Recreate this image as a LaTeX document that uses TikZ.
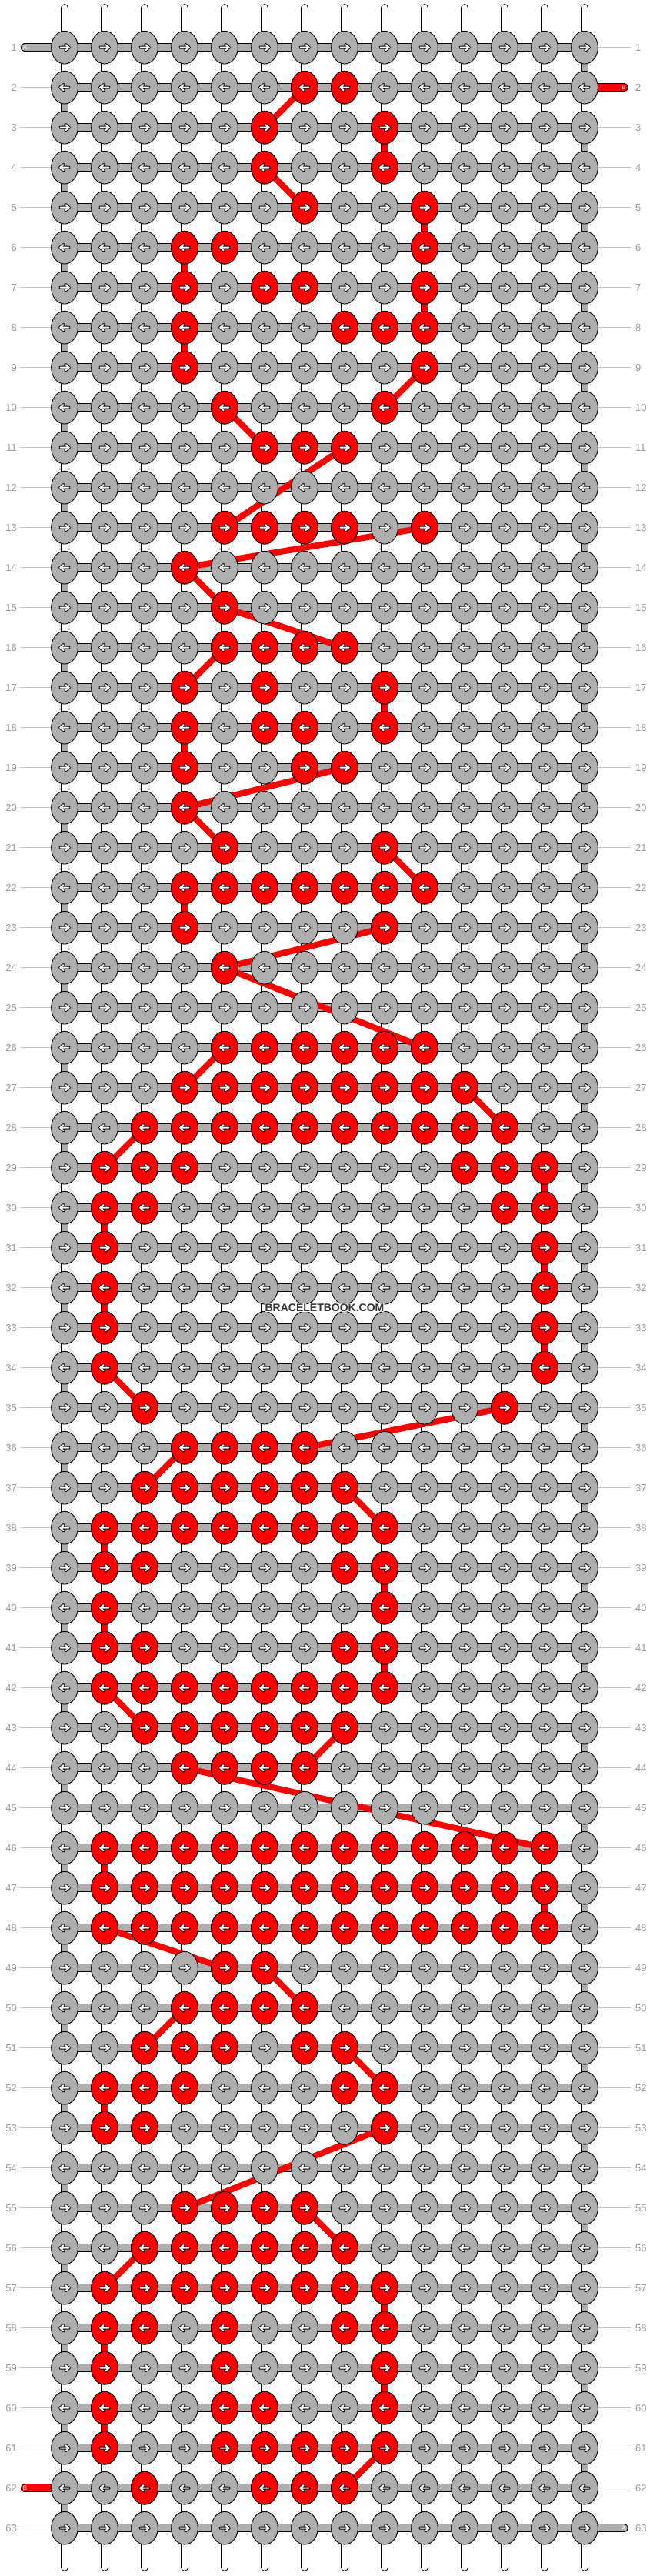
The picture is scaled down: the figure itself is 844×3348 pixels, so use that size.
\documentclass[tikz,border=0pt]{standalone}
\usepackage{fontspec}
\setmainfont{Liberation Sans}
\usetikzlibrary{shapes.geometric}
\definecolor{knotgrey}{HTML}{AEAEAE}
\definecolor{labgrey}{HTML}{9A9A9A}
\definecolor{lingrey}{HTML}{C4C4C4}
\definecolor{tubeline}{HTML}{D2D2D2}
\definecolor{wred}{HTML}{FF0000}
\definecolor{wmark}{HTML}{333333}
\tikzset{
  rarr/.pic={
    \draw[black,line width=4pt,line cap=round,line join=round] (-5.5,0)--(5.8,0) (1.3,-3.6)--(5.8,0)--(1.3,3.6);
    \draw[white,line width=2pt,line cap=round,line join=round] (-5.5,0)--(5.8,0) (1.3,-3.6)--(5.8,0)--(1.3,3.6);
  },
  larr/.pic={
    \draw[black,line width=4pt,line cap=round,line join=round] (5.5,0)--(-5.8,0) (-1.3,-3.6)--(-5.8,0)--(-1.3,3.6);
    \draw[white,line width=2pt,line cap=round,line join=round] (5.5,0)--(-5.8,0) (-1.3,-3.6)--(-5.8,0)--(-1.3,3.6);
  }
}
\begin{document}
\begin{tikzpicture}[x=1pt,y=-1pt,
  tube/.style={double=white,double distance=8.7pt,line width=1pt,line cap=round},
  greyseg/.style={double=knotgrey,double distance=8.7pt,line width=1pt},
  redseg/.style={double=wred,double distance=8.7pt,line width=1pt},
  hbar/.style={double=knotgrey,double distance=9.5pt,line width=1pt},
  tailgrey/.style={double=knotgrey,double distance=9.5pt,line width=1pt,line cap=round},
  tailred/.style={double=wred,double distance=9.5pt,line width=1pt,line cap=round},
  redline/.style={draw=wred,line width=8pt},
  knot/.style={ellipse,draw=black,line width=0.9pt,fill=knotgrey,minimum width=34.7pt,minimum height=42.7pt,inner sep=0pt},
  redknot/.style={knot,fill=wred},
  rowlab/.style={text=labgrey,font=\fontsize{13}{13}\selectfont,inner sep=0pt},
  taillab/.style={text=white,font=\fontsize{8}{8}\selectfont,inner sep=0pt},
  guide/.style={draw=lingrey,line width=1pt}
]
\useasboundingbox (0,0) rectangle (844,3348);
\fill[white] (0,0) rectangle (844,3348);

% grid coordinates
\foreach \r in {1,...,63}{
  \foreach \c in {1,...,14}{
    \coordinate (p-\r-\c) at ({84+52*(\c-1)},{61.7+52*(\r-1)});
  }
}

% vertical base strings
\foreach \c in {1,...,14}{
  \coordinate (tt-\c) at ({84+52*(\c-1)},10.4);
  \coordinate (tb-\c) at ({84+52*(\c-1)},3336.4);
  \draw[tube] (tt-\c) -- (tb-\c);
  \draw[tubeline,line width=0.6pt] (tt-\c) -- (tb-\c);
}

% grey turning segments of the working string
\foreach \r in {1,...,62}{
  \pgfmathtruncatemacro\n{\r+1}
  \pgfmathtruncatemacro\cc{mod(\r,2)==1 ? 14 : 1}
  \draw[greyseg] (p-\r-\cc) -- (p-\n-\cc);
}

% red vertical segments
\foreach \a/\b/\c in {3/4/9,5/6/10,6/7/4,7/8/10,8/9/4,17/18/9,18/19/4,22/23/4,
  29/30/13,30/31/2,31/32/13,32/33/2,33/34/13,38/39/2,39/40/9,40/41/2,41/42/9,
  46/47/2,47/48/13,52/53/2,57/58/9,58/59/2,59/60/9,60/61/2}{
  \draw[redseg] (p-\a-\c) -- (p-\b-\c);
}

% horizontal working string
\foreach \r in {1,...,63}{
  \draw[hbar] (p-\r-1) -- (p-\r-14);
}

% tails
\coordinate (tailA1) at (32.5,61.7);
\coordinate (tailB1) at (811,113.7);
\coordinate (tailB2) at (32.5,3233.7);
\coordinate (tailA2) at (811,3285.7);
\draw[tailgrey] (tailA1) -- (p-1-1);
\draw[tailred] (p-2-14) -- (tailB1);
\draw[tailred] (tailB2) -- (p-62-1);
\draw[tailgrey] (p-63-14) -- (tailA2);
\node[taillab] (labA1) at (tailA1) {A};
\node[taillab] (labB1) at (tailB1) {B};
\node[taillab] (labB2) at (tailB2) {B};
\node[taillab] (labA2) at (tailA2) {A};

% row numbers and guide lines
\foreach \r in {1,...,63}{
  \coordinate (ll-\r) at (26,{61.7+52*(\r-1)});
  \coordinate (rl-\r) at (820,{61.7+52*(\r-1)});
  \ifnum\r=1\relax\else\ifnum\r=62\relax\else
    \draw[guide] (ll-\r) -- (p-\r-1);
  \fi\fi
  \ifnum\r=2\relax\else\ifnum\r=63\relax\else
    \draw[guide] (p-\r-14) -- (rl-\r);
  \fi\fi
  \node[rowlab,anchor=east] (labL-\r) at (22,{61.7+52*(\r-1)}) {\r};
  \node[rowlab,anchor=west] (labR-\r) at (826,{61.7+52*(\r-1)}) {\r};
}

% red diagonal connectors
\foreach \a/\ca/\b/\cb in {2/7/3/6,4/6/5/7,9/10/10/9,10/5/11/6,11/8/13/5,13/10/14/4,
  14/4/15/5,15/5/16/8,16/5/17/4,19/8/20/4,20/4/21/5,21/9/22/10,23/9/24/5,24/5/26/10,
  26/5/27/4,27/11/28/12,28/3/29/2,34/2/35/3,35/12/36/7,36/4/37/3,37/8/38/9,42/2/43/3,
  43/8/44/7,44/4/46/13,48/2/49/5,49/6/50/7,50/4/51/3,51/8/52/9,53/9/55/4,55/7/56/8,
  56/3/57/2,61/9/62/8}{
  \draw[redline] (p-\a-\ca) -- (p-\b-\cb);
}

% grey knots
\foreach \r in {1,...,63}{
  \foreach \c in {1,...,14}{
    \node[knot] (k-\r-\c) at (p-\r-\c) {};
    \ifodd\r\relax
      \pic at (p-\r-\c) {rarr};
    \else
      \pic at (p-\r-\c) {larr};
    \fi
  }
}

% red knots
\foreach \r/\cs in {2/{7,8},3/{6,9},4/{6,9},5/{7,10},6/{4,5,10},7/{4,6,7,10},
  8/{4,8,9,10},9/{4,10},10/{5,9},11/{6,7,8},13/{5,6,7,8,10},14/{4},15/{5},
  16/{5,6,7,8},17/{4,6,9},18/{4,6,7,9},19/{4,7,8},20/{4},21/{5,9},
  22/{4,5,6,7,8,9,10},23/{4,9},24/{5},26/{5,6,7,8,9,10},27/{4,5,6,7,8,9,10,11},
  28/{3,4,5,6,7,8,9,10,11,12},29/{2,3,4,11,12,13},30/{2,3,12,13},31/{2,13},
  32/{2,13},33/{2,13},34/{2,13},35/{3,12},36/{4,5,6,7},37/{3,4,5,6,7,8},
  38/{2,3,4,5,6,7,8,9},39/{2,3,8,9},40/{2,9},41/{2,3,8,9},42/{2,3,4,5,6,7,8,9},
  43/{3,4,5,6,7,8},44/{4,5,6,7},46/{2,3,4,5,6,7,8,9,10,11,12,13},
  47/{2,3,4,5,6,7,8,9,10,11,12,13},48/{2,3,4,5,6,7,8,9,10,11,12,13},
  49/{5,6},50/{4,5,6,7},51/{3,4,5,7,8},52/{2,3,4,8,9},53/{2,3,9},55/{4,5,6,7},
  56/{3,4,5,6,7,8},57/{2,3,4,5,6,7,8,9},58/{2,3,5,8,9},59/{2,5,9},60/{2,5,6,9},
  61/{2,5,6,7,8,9},62/{3,6,7,8}}{
  \foreach \c in \cs{
    \node[redknot] (rk-\r-\c) at (p-\r-\c) {};
    \ifodd\r\relax
      \pic at (p-\r-\c) {rarr};
    \else
      \pic at (p-\r-\c) {larr};
    \fi
  }
}

% watermark
\foreach \dx/\dy [count=\i] in {-1/0,1/0,0/-1,0/1,-1/-1,1/1,-1/1,1/-1}{
  \node[text=white,font=\bfseries\fontsize{14}{14}\selectfont,inner sep=0pt] (wmh-\i) at ({422+\dx},{1699.5+\dy}) {BRACELETBOOK.COM};
}
\node[text=wmark,font=\bfseries\fontsize{14}{14}\selectfont,inner sep=0pt] (wm) at (422,1699.5) {BRACELETBOOK.COM};
\end{tikzpicture}
\end{document}
